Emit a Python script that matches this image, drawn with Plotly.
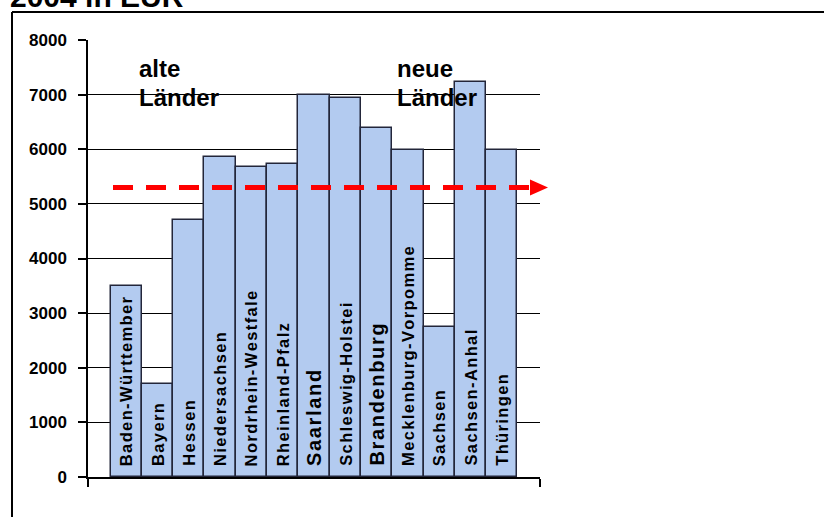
import plotly.graph_objects as go

# Federal states (bar order) and per-state amounts in EUR, 2004
states = [
    "Baden-Württember", "Bayern", "Hessen", "Niedersachsen", "Nordrhein-Westfale",
    "Rheinland-Pfalz", "Saarland", "Schleswig-Holstei", "Brandenburg",
    "Mecklenburg-Vorpomme", "Sachsen", "Sachsen-Anhal", "Thüringen",
]
values = [3500, 1700, 4700, 5850, 5680, 5730, 6990, 6930, 6390, 5990, 2750, 7240, 5990]
average = 5300
y_ticks = [0, 1000, 2000, 3000, 4000, 5000, 6000, 7000, 8000]

FONT = "Liberation Sans, Arial, sans-serif"
W, H = 824, 517
L, R, T, B = 88, 540, 40, 477          # plot area in pixels
XR = [-1.22, len(states) - 1 + 1.22]


def px_x(p):
    return (p - L) / (R - L)


def px_y(p):
    return (B - p) / (B - T)


def spaced(s):
    return "\u200a".join(s)


x = list(range(len(states)))

fig = go.Figure()
fig.add_trace(go.Bar(
    x=x, y=values, width=1.0,
    marker=dict(color="#B3CBF0", line=dict(color="#23263a", width=1.5)),
    hoverinfo="skip",
))

# state names written vertically inside the bars
big = {"Saarland": 20, "Brandenburg": 20}
for i, name in enumerate(states):
    fig.add_annotation(
        x=i, y=0, xref="x", yref="y", text=spaced(name), textangle=-90,
        showarrow=False, xanchor="center", yanchor="bottom", yshift=9,
        font=dict(family=FONT, size=big.get(name, 16.5), color="black", weight="bold"),
    )

# average line with arrow head
fig.add_shape(type="line", xref="paper", yref="y",
              x0=px_x(113), x1=px_x(532), y0=average, y1=average,
              line=dict(color="#FF0000", width=5, dash="20px,13px"))
fig.add_shape(type="path", xref="paper", yref="y",
              xsizemode="pixel", ysizemode="pixel",
              xanchor=px_x(530), yanchor=average,
              path="M 0,-8 L 18,0 L 0,8 Z",
              fillcolor="#FF0000", line=dict(width=0))

# group headings, one line each
headings = [("alte", 137, 53), ("Länder", 137, 82), ("neue", 395, 53), ("Länder", 395, 82)]
for txt, px, py in headings:
    fig.add_annotation(
        x=px_x(px), y=px_y(py), xref="paper", yref="paper", text=txt,
        showarrow=False, xanchor="left", yanchor="top", align="left",
        font=dict(family=FONT, size=24, color="black", weight="bold"),
    )

# title (runs off the top edge)
fig.add_annotation(
    x=px_x(8), y=px_y(15), xref="paper", yref="paper", text="2004 in EUR",
    showarrow=False, xanchor="left", yanchor="bottom",
    font=dict(family=FONT, size=30, color="black", weight="bold"),
)

# frame around the chart
fig.add_shape(type="line", xref="paper", yref="paper",
              x0=px_x(12), x1=px_x(12), y0=px_y(12), y1=px_y(530),
              line=dict(color="black", width=2))
fig.add_shape(type="line", xref="paper", yref="paper",
              x0=px_x(12), x1=px_x(830), y0=px_y(12), y1=px_y(12),
              line=dict(color="black", width=2))

fig.update_layout(
    width=W, height=H,
    margin=dict(l=L, r=W - R, t=T, b=H - B, pad=0),
    paper_bgcolor="white", plot_bgcolor="white",
    showlegend=False, bargap=0,
    font=dict(family=FONT, color="black"),
)
fig.update_xaxes(
    range=XR, showticklabels=False, showgrid=False, zeroline=False,
    showline=True, linecolor="black", linewidth=1.5,
    ticks="outside", ticklen=8, tickcolor="black", tickwidth=1.5,
    tickvals=XR, tickmode="array",
)
fig.update_yaxes(
    range=[0, 8000], tickvals=y_ticks, showgrid=True, gridcolor="black", gridwidth=1,
    zeroline=False, showline=True, linecolor="black", linewidth=1.5,
    ticks="outside", ticklen=8, tickcolor="black", tickwidth=1.5,
    ticklabelstandoff=8,
    tickfont=dict(family=FONT, size=17, color="black", weight="bold"),
)

fig.write_html("out.html")
